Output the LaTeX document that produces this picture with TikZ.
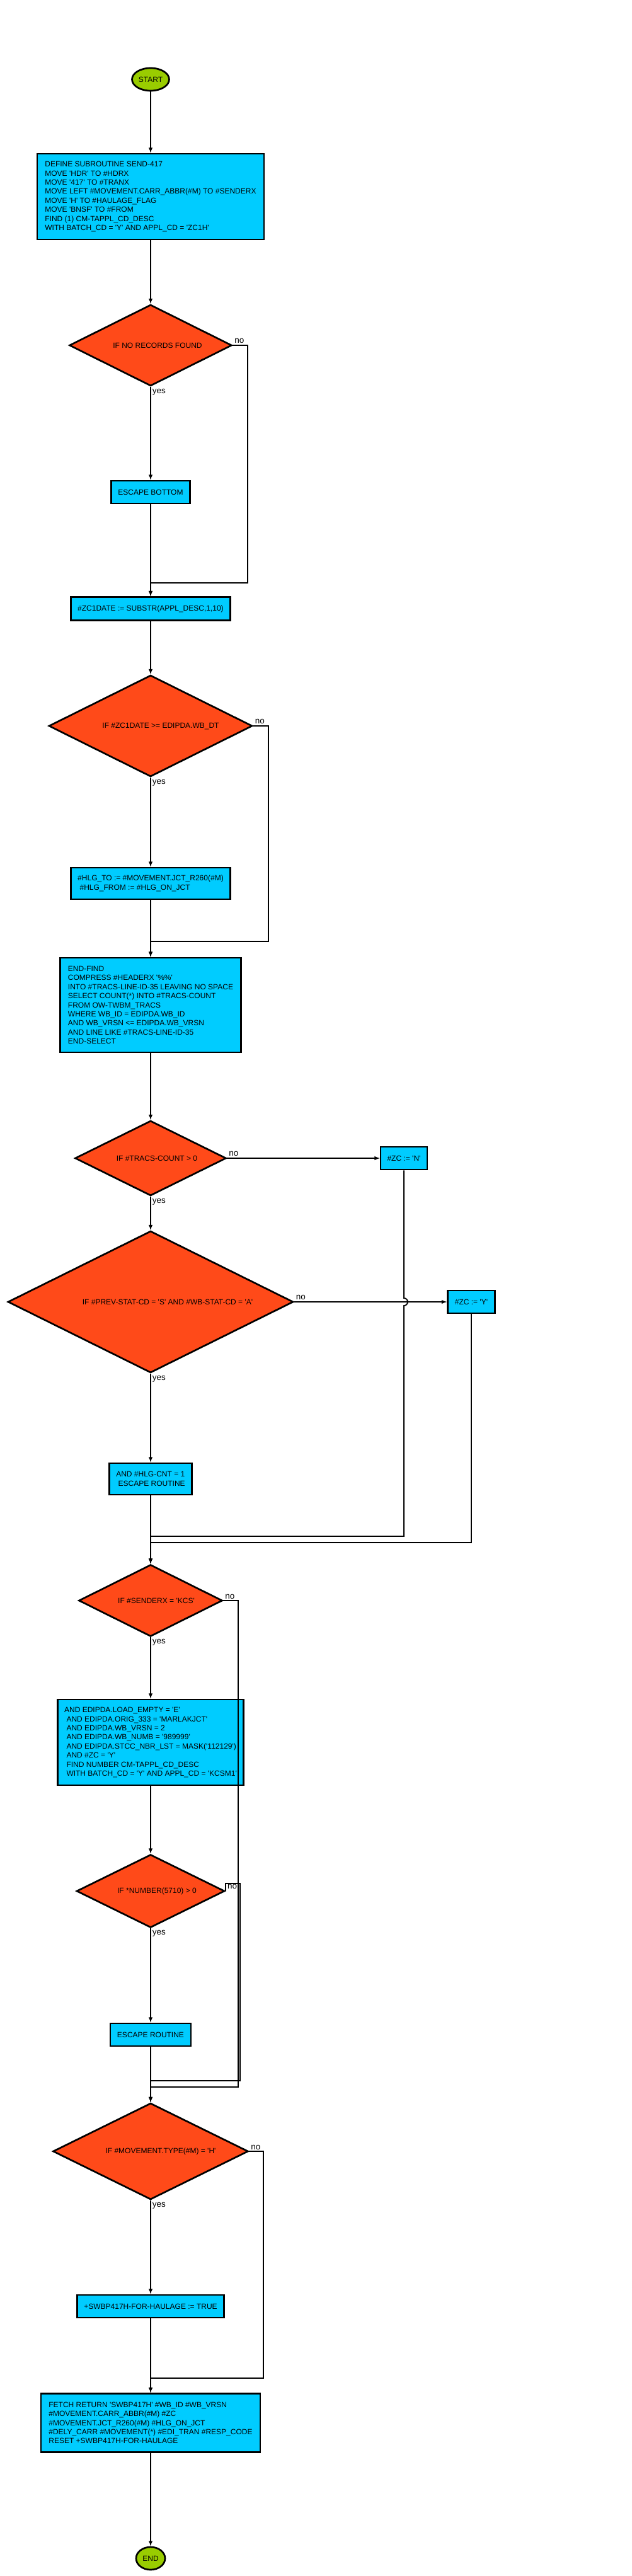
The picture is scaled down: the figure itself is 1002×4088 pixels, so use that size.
\documentclass[tikz,border=0pt]{standalone}
\usepackage{fontspec}
\setmainfont{Liberation Sans}[Ligatures=TeXOff]
\usepackage{tikz}
\usetikzlibrary{shapes.geometric}
\definecolor{termgreen}{HTML}{99CC00}
\definecolor{procblue}{HTML}{00CCFF}
\definecolor{decred}{HTML}{FF4A19}

\begin{document}
\begin{tikzpicture}[x=1pt,y=-1pt,
  every node/.style={font=\fontsize{12}{14.4}\selectfont},
  term/.style={ellipse,draw,line width=2.7pt,fill=termgreen,inner sep=0pt},
  proc/.style={rectangle,draw,line width=2.7pt,fill=procblue,align=left,inner sep=0pt},
  dec/.style={diamond,draw,line width=2.7pt,fill=decred,inner sep=0pt},
  flow/.style={line width=1.8pt,-latex},
  lbl/.style={inner sep=2pt,font=\fontsize{13.5}{16}\selectfont}]
 \useasboundingbox (0,0) rectangle (1002,4088);

 \node[term,minimum width=59,minimum height=36] (start) at (239,126) {START};
 \node[proc,minimum width=360,minimum height=136] (b1) at (239,312) {DEFINE SUBROUTINE SEND-417\\MOVE 'HDR' TO \#HDRX\\MOVE '417' TO \#TRANX\\MOVE LEFT \#MOVEMENT.CARR\_ABBR(\#M) TO \#SENDERX\\MOVE 'H' TO \#HAULAGE\_FLAG\\MOVE 'BNSF' TO \#FROM\\FIND (1) CM-TAPPL\_CD\_DESC\\WITH BATCH\_CD = 'Y' AND APPL\_CD = 'ZC1H'};
 \node[dec,minimum width=258,minimum height=129] (d1) at (239,548) {};
 \node (d1t) at ([xshift=11pt]d1.center) {IF NO RECORDS FOUND};
 \node[proc,minimum width=125,minimum height=36] (b2) at (239,781) {ESCAPE BOTTOM};
 \node[proc,minimum width=253,minimum height=37] (b3) at (239,966) {\#ZC1DATE := SUBSTR(APPL\_DESC,1,10)};
 \node[dec,minimum width=323,minimum height=161] (d2) at (239,1152) {};
 \node (d2t) at ([xshift=16pt]d2.center) {IF \#ZC1DATE >= EDIPDA.WB\_DT};
 \node[proc,minimum width=253,minimum height=50] (b4) at (239,1402) {\#HLG\_TO := \#MOVEMENT.JCT\_R260(\#M)\\\ \#HLG\_FROM := \#HLG\_ON\_JCT};
 \node[proc,minimum width=287,minimum height=150] (b5) at (239,1595) {END-FIND\\COMPRESS \#HEADERX '\%\%'\\INTO \#TRACS-LINE-ID-35 LEAVING NO SPACE\\SELECT COUNT(*) INTO \#TRACS-COUNT\\FROM OW-TWBM\_TRACS\\WHERE WB\_ID = EDIPDA.WB\_ID\\AND WB\_VRSN <= EDIPDA.WB\_VRSN\\AND LINE LIKE \#TRACS-LINE-ID-35\\END-SELECT};
 \node[dec,minimum width=240,minimum height=119] (d3) at (239,1838) {};
 \node (d3t) at ([xshift=10pt]d3.center) {IF \#TRACS-COUNT > 0};
 \node[proc,minimum width=74,minimum height=36] (zcn) at (641,1838) {\#ZC := 'N'};
 \node[dec,minimum width=453,minimum height=225] (d4) at (239,2066) {};
 \node (d4t) at ([xshift=27pt]d4.center) {IF \#PREV-STAT-CD = 'S' AND \#WB-STAT-CD = 'A'};
 \node[proc,minimum width=75,minimum height=36] (zcy) at (748,2066) {\#ZC := 'Y'};
 \node[proc,minimum width=131,minimum height=50] (b6) at (239,2347) {AND \#HLG-CNT = 1\\\ ESCAPE ROUTINE};
 \node[dec,minimum width=228,minimum height=114] (d5) at (239,2540) {};
 \node (d5t) at ([xshift=9pt]d5.center) {IF \#SENDERX = 'KCS'};
 \node[proc,minimum width=295,minimum height=136] (b7) at (239,2765) {AND EDIPDA.LOAD\_EMPTY = 'E'\\\ AND EDIPDA.ORIG\_333 = 'MARLAKJCT'\\\ AND EDIPDA.WB\_VRSN = 2\\\ AND EDIPDA.WB\_NUMB = '989999'\\\ AND EDIPDA.STCC\_NBR\_LST = MASK('112129')\\\ AND \#ZC = 'Y'\\\ FIND NUMBER CM-TAPPL\_CD\_DESC\\\ WITH BATCH\_CD = 'Y' AND APPL\_CD = 'KCSM1'};
 \node[dec,minimum width=235,minimum height=116] (d6) at (239,3001) {};
 \node (d6t) at ([xshift=10pt]d6.center) {IF *NUMBER(5710) > 0};
 \node[proc,minimum width=128,minimum height=36] (b8) at (239,3229) {ESCAPE ROUTINE};
 \node[dec,minimum width=310,minimum height=153] (d7) at (239,3414) {};
 \node (d7t) at ([xshift=16pt]d7.center) {IF \#MOVEMENT.TYPE(\#M) = 'H'};
 \node[proc,minimum width=233,minimum height=36] (b9) at (239,3660) {+SWBP417H-FOR-HAULAGE := TRUE};
 \node[proc,minimum width=348,minimum height=93] (b10) at (239,3845) {FETCH RETURN 'SWBP417H' \#WB\_ID \#WB\_VRSN\\\#MOVEMENT.CARR\_ABBR(\#M) \#ZC\\\#MOVEMENT.JCT\_R260(\#M) \#HLG\_ON\_JCT\\\#DELY\_CARR \#MOVEMENT(*) \#EDI\_TRAN \#RESP\_CODE\\RESET +SWBP417H-FOR-HAULAGE};
 \node[term,minimum width=46,minimum height=36] (end) at (239,4060) {END};

 \coordinate (n1) at (393,925);
 \coordinate (n2) at (426,1494);
 \coordinate (hop) at (641,2060);
 \coordinate (n3) at (641,2438);
 \coordinate (n4) at (748,2448);
 \coordinate (n5) at (378,3312);
 \coordinate (h6) at (358,2989);
 \coordinate (n6) at (381,3302);
 \coordinate (n7) at (418,3774);

 \draw[flow] (start.south) -- (b1.north);
 \draw[flow] (b1.south) -- (d1.north);
 \draw[flow] (d1.south) node[lbl,below right] (yes1) {yes} -- (b2.north);
 \draw[flow] (d1.east) node[lbl,above right] (no1) {no} -| (n1) -- (n1 -| b3.north) -- (b3.north);
 \draw[flow] (b2.south) -- (b3.north);
 \draw[flow] (b3.south) -- (d2.north);
 \draw[flow] (d2.south) node[lbl,below right] (yes2) {yes} -- (b4.north);
 \draw[flow] (d2.east) node[lbl,above right] (no2) {no} -| (n2) -- (n2 -| b5.north) -- (b5.north);
 \draw[flow] (b4.south) -- (b5.north);
 \draw[flow] (b5.south) -- (d3.north);
 \draw[flow] (d3.east) node[lbl,above right] (no3) {no} -- (zcn.west);
 \draw[flow] (d3.south) node[lbl,below right] (yes3) {yes} -- (d4.north);
 \draw[flow] (d4.east) node[lbl,above right] (no4) {no} -- (zcy.west);
 \draw[flow] (d4.south) node[lbl,below right] (yes4) {yes} -- (b6.north);
 \draw[flow] (zcn.south) -- (hop) arc[start angle=90,end angle=-90,radius=6pt] -- (n3) -- (n3 -| d5.north) -- (d5.north);
 \draw[flow] (zcy.south) -- (n4) -- (n4 -| d5.north) -- (d5.north);
 \draw[flow] (b6.south) -- (d5.north);
 \draw[flow] (d5.south) node[lbl,below right] (yes5) {yes} -- (b7.north);
 \draw[flow] (d5.east) node[lbl,above right] (no5) {no} -| (n5) -- (n5 -| d7.north) -- (d7.north);
 \draw[flow] (b7.south) -- (d6.north);
 \node[lbl,anchor=west] (no6) at (359,2994) {no};
 \draw[flow] (d6.east) -- (h6) -- (h6 -| n6) -- (n6) -- (n6 -| d7.north) -- (d7.north);
 \draw[flow] (d6.south) node[lbl,below right] (yes6) {yes} -- (b8.north);
 \draw[flow] (b8.south) -- (d7.north);
 \draw[flow] (d7.south) node[lbl,below right] (yes7) {yes} -- (b9.north);
 \draw[flow] (d7.east) node[lbl,above right] (no7) {no} -| (n7) -- (n7 -| b10.north) -- (b10.north);
 \draw[flow] (b9.south) -- (b10.north);
 \draw[flow] (b10.south) -- (end.north);
\end{tikzpicture}
\end{document}
